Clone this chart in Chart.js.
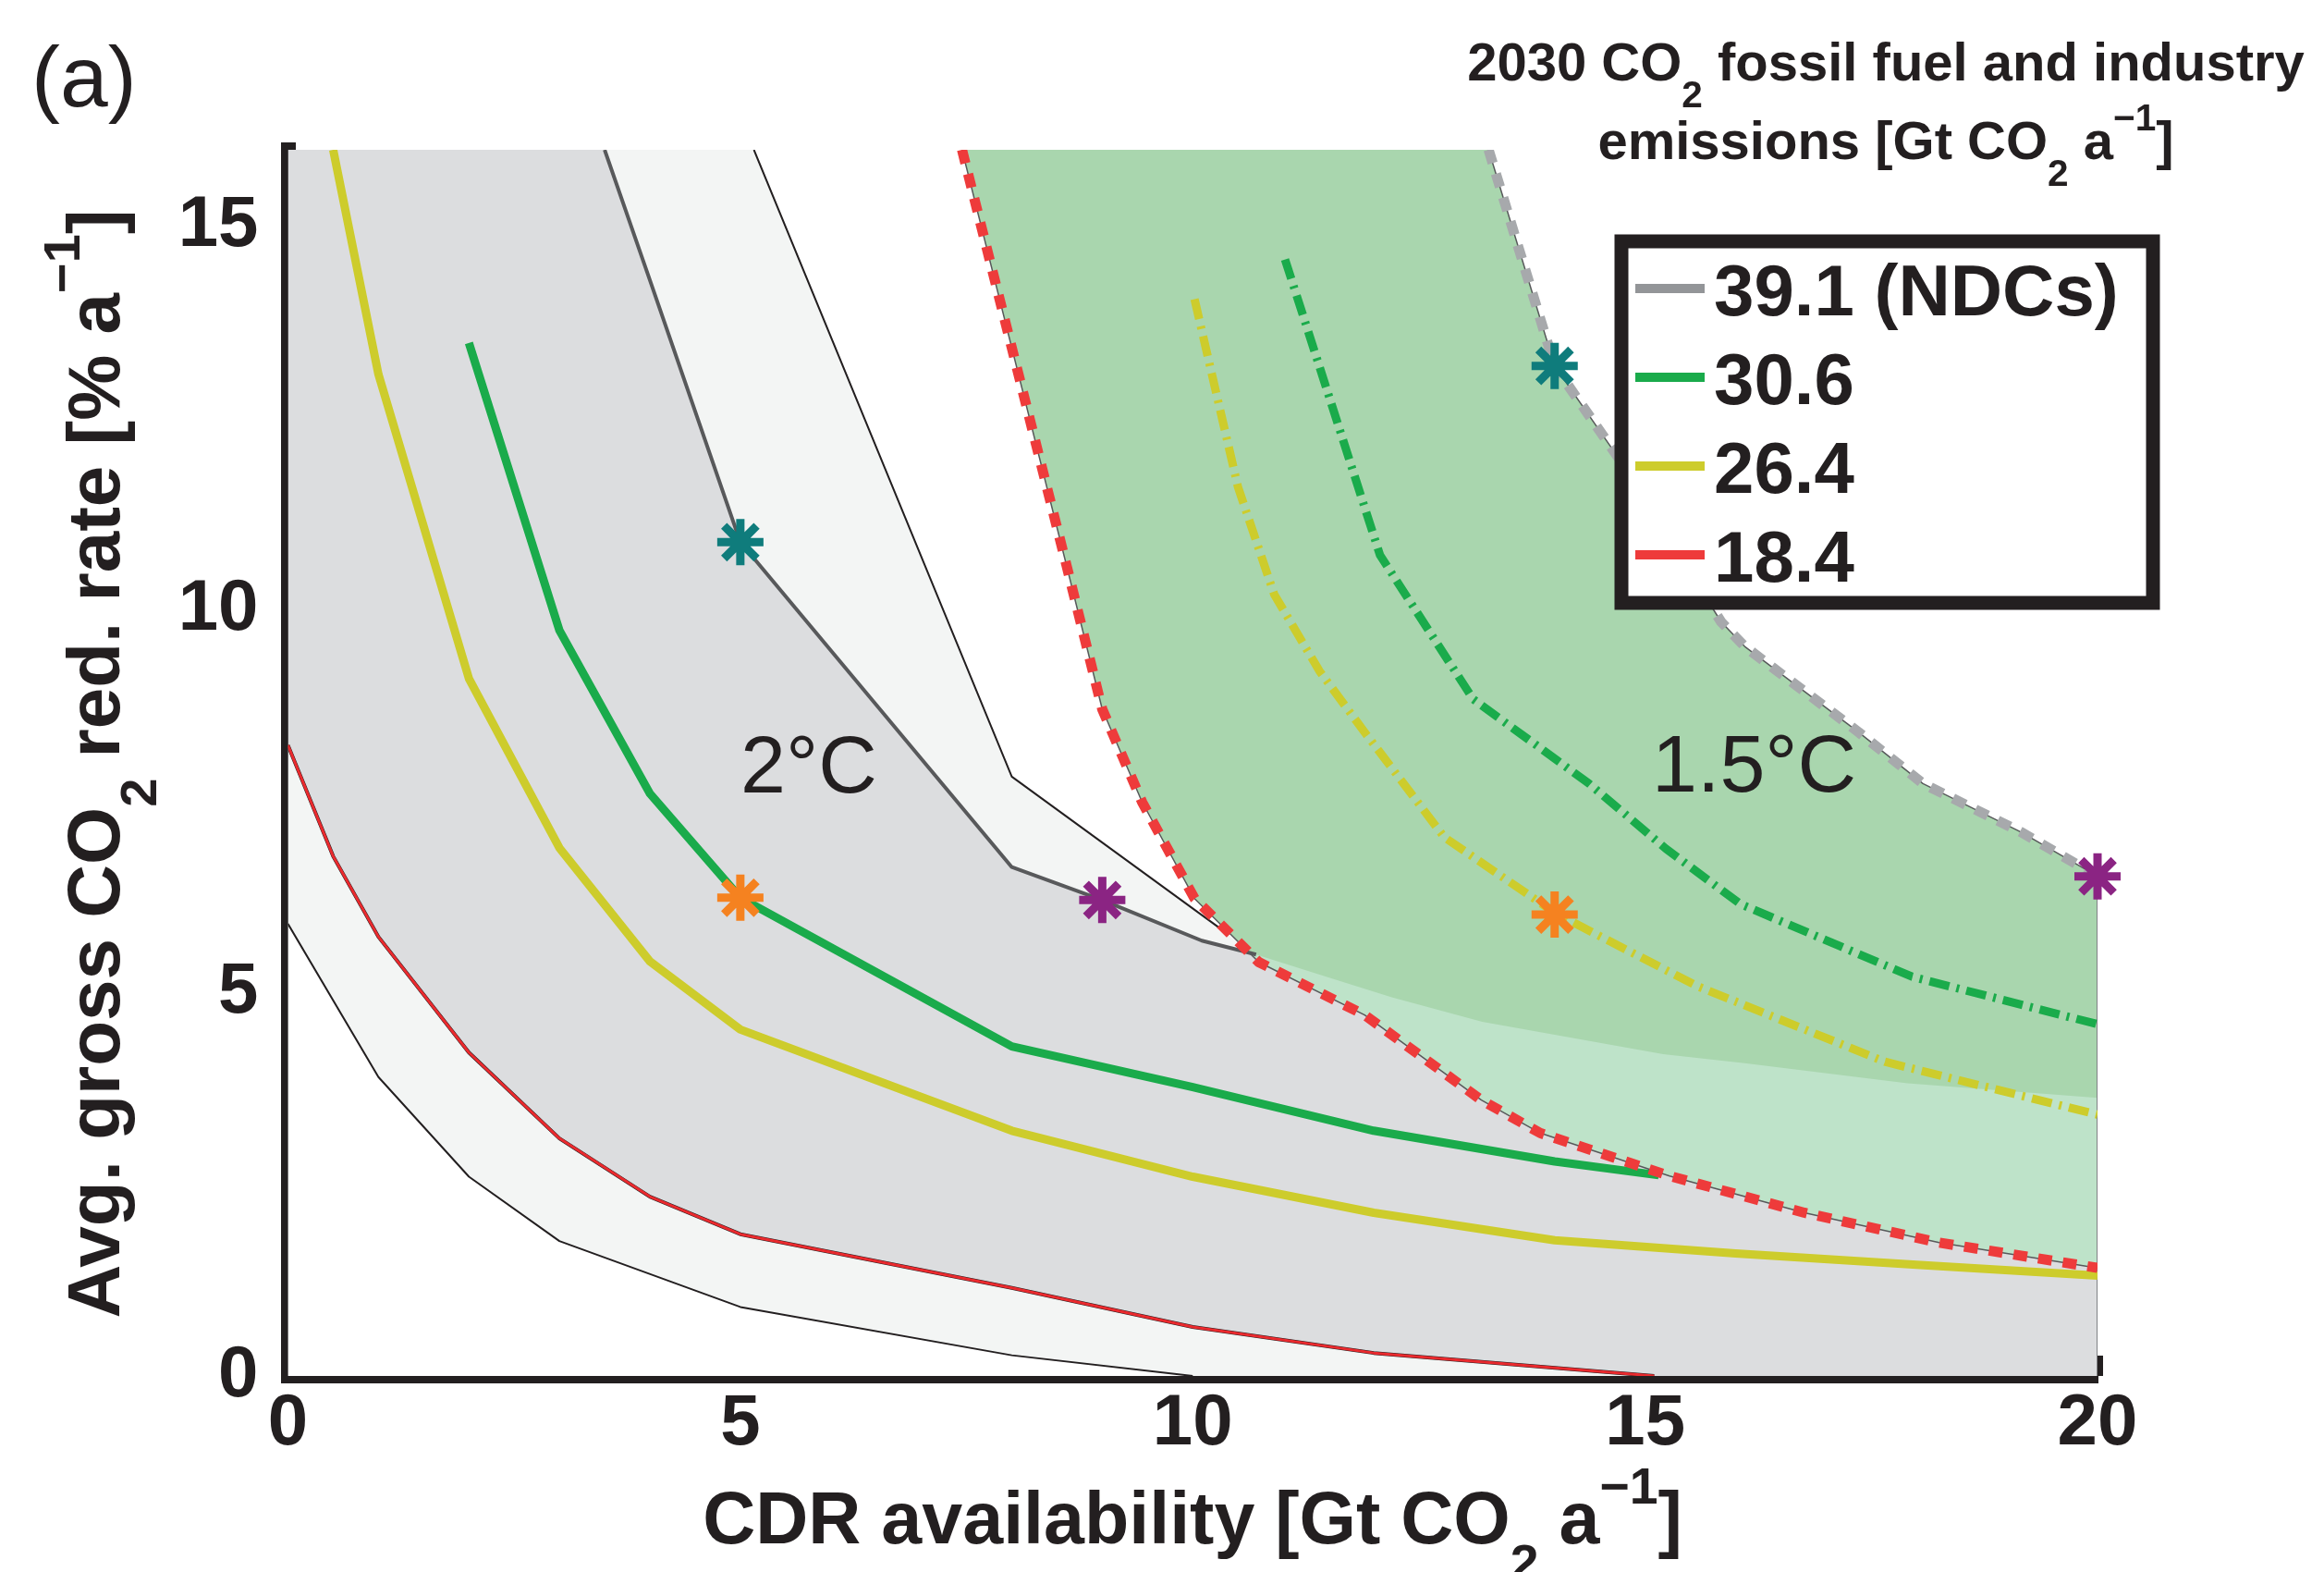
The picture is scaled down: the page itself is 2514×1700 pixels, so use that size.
<!DOCTYPE html>
<html>
<head>
<meta charset="utf-8">
<script src="https://cdn.jsdelivr.net/npm/chart.js"></script>
<style>
  html, body { margin: 0; padding: 0; background: #fff; }
</style>
</head>
<body>
<canvas id="chart" width="2514" height="1700"></canvas>
<script>
const X_TICKS = [0, 5, 10, 15, 20];
const Y_TICKS = [0, 5, 10, 15];
const X_MAX = 20, Y_MAX = 16;

// 2°C curves (solid)
const ndc2X = [3.5, 4, 5, 8, 9, 10.1, 10.7];
const ndc2Y = [16, 14.3, 10.88, 6.64, 6.21, 5.68, 5.5];
const grayTailX = [11.5, 12.2, 13.2, 15.2, 16.1, 17.9, 20];
const grayTailY = [5.2, 4.94, 4.62, 4.2, 4.08, 3.82, 3.63];
const outerX = [5.15, 8, 10.35];
const outerY = [16, 7.82, 5.8];
const lowX = [0, 1, 2, 3, 5, 8, 10];
const lowY = [5.9, 3.9, 2.6, 1.76, 0.9, 0.27, 0];
const red2X = [0, 0.5, 1, 2, 3, 4, 5, 8, 10, 12, 15.1];
const red2Y = [8.23, 6.78, 5.73, 4.22, 3.1, 2.34, 1.85, 1.15, 0.64, 0.3, 0];
const yel2X = [0.5, 1, 2, 3, 4, 5, 8, 10, 12, 14, 16, 18, 20];
const yel2Y = [16, 13.07, 9.1, 6.89, 5.41, 4.52, 3.2, 2.6, 2.13, 1.77, 1.6, 1.45, 1.31];
const grn2X = [2, 3, 4, 5, 8, 10, 12, 14, 15.15];
const grn2Y = [13.48, 9.73, 7.6, 6.24, 4.3, 3.77, 3.2, 2.8, 2.62];

// 1.5°C curves (dashed)
const ndc15X = [13.27, 14, 14.7, 15.84, 16.1, 17.36, 18.07, 19.15, 20];
const ndc15Y = [16, 13.18, 11.99, 9.84, 9.52, 8.4, 7.73, 7.1, 6.52];
const red15X = [7.45, 8.6, 9.0, 9.44, 10.02, 10.73, 11.9, 13.19, 13.84, 15.27, 16.76, 18.25, 20];
const red15Y = [16, 10.6, 8.7, 7.49, 6.23, 5.4, 4.71, 3.6, 3.17, 2.61, 2.13, 1.74, 1.41];
const grn15X = [11.02, 12.07, 13.1, 14.38, 15.23, 16.05, 17.95, 20];
const grn15Y = [14.57, 10.71, 8.83, 7.73, 6.88, 6.16, 5.21, 4.59];
const yel15X = [10.02, 10.5, 10.9, 11.4, 11.9, 12.78, 14.02, 15.57, 17.65, 20];
const yel15Y = [14.05, 11.6, 10.2, 9.2, 8.4, 7.03, 6.03, 5.09, 4.1, 3.41];

// asterisks
const tealX = [5, 14], tealY = [10.88, 13.18];
const orangeX = [5, 14], orangeY = [6.24, 6.02];
const purpleX = [9, 20], purpleY = [6.21, 6.52];

const legendLabels = ["39.1 (NDCs)", "30.6", "26.4", "18.4"];

const C = {
  text: "#231f20", band: "#f3f5f4", gray: "#dcdddf", green: "#a9d6ae", greenLight: "#bee3c9",
  ndc: "#939598", ndcDark: "#58595b", grn: "#1aab4b", yel: "#cdcc2c", red: "#ee3b3b",
  redLine: "#ea2a2e", teal: "#0f7c7c", orange: "#f58220", purple: "#8b2483"
};
const legendColors = [C.ndc, C.grn, C.yel, C.red];
const FONT = '"Liberation Sans", Arial, Helvetica, sans-serif';

const pts = (xs, ys) => xs.map((x, i) => ({ x, y: ys[i] }));

const grayTop = [{ x: 0, y: Y_MAX }, ...pts(ndc2X, ndc2Y), ...pts(grayTailX, grayTailY)];
const outerTop = [{ x: 0, y: Y_MAX }, ...pts(outerX, outerY),
  { x: ndc2X[ndc2X.length - 1], y: ndc2Y[ndc2Y.length - 1] }, ...pts(grayTailX, grayTailY)];
const greenTop = [{ x: red15X[0], y: Y_MAX }, ...pts(ndc15X, ndc15Y)];
const rightEdge = [{ x: X_MAX, y: 0 }, { x: X_MAX, y: ndc15Y[ndc15Y.length - 1] }];

function area(data, color, order, fill) {
  return { data, fill: fill || "origin", backgroundColor: color, borderWidth: 0,
    borderColor: "rgba(0,0,0,0)", pointRadius: 0, order };
}
function line(data, color, width, order, dash) {
  return { data, fill: false, borderColor: color, borderWidth: width, borderDash: dash || [],
    pointRadius: 0, order, borderCapStyle: "butt", borderJoinStyle: "round" };
}
function stars(data, color) {
  return { data, showLine: false, pointStyle: "star", pointRadius: 25, pointBorderWidth: 9,
    pointBorderColor: color, pointBackgroundColor: color, order: 0, clip: false };
}

const RED15 = 13; // index of the red dashed line, used as fill boundary
const datasets = [
  area(outerTop, C.band, 100),
  area(grayTop, C.gray, 99),
  area(pts(red2X, red2Y), C.band, 98),
  area(pts(lowX, lowY), "#ffffff", 97),
  area(greenTop, C.green, 96, { target: RED15 }),
  area(grayTop, C.greenLight, 95, { target: RED15, above: C.greenLight, below: "rgba(0,0,0,0)" }),
  line(rightEdge, "#808285", 2, 60),
  line(pts(outerX, outerY), C.text, 2, 50),
  line(pts(lowX, lowY), C.text, 2, 50),
  line(pts(ndc2X, ndc2Y), C.ndcDark, 4, 45),
  line(pts(red2X, red2Y), C.text, 4, 44),
  line(pts(red2X, red2Y), C.redLine, 3, 43),
  line(pts(red15X, red15Y), "#58595b", 1.5, 31),
  line(pts(red15X, red15Y), C.red, 11, 30, [15, 12]),
  line(pts(ndc15X, ndc15Y), "#58595b", 1.5, 31),
  line(pts(ndc15X, ndc15Y), "#a7a9ac", 11, 30, [15, 12]),
  line(pts(yel2X, yel2Y), C.yel, 9, 35),
  line(pts(grn2X, grn2Y), C.grn, 9, 34),
  line(pts(grn15X, grn15Y), C.grn, 9, 20, [22, 8, 3, 8]),
  line(pts(yel15X, yel15Y), C.yel, 9, 20, [22, 8, 3, 8]),
  stars(pts(tealX, tealY), C.teal),
  stars(pts(orangeX, orangeY), C.orange),
  stars(pts(purpleX, purpleY), C.purple)
];

const xTitle = [["CDR availability [Gt CO"], ["2", "sub"], [" a"], ["\u22121", "sup"], ["]"]];
const yTitle = [["Avg. gross CO"], ["2", "sub"], [" red. rate [% a"], ["\u22121", "sup"], ["]"]];
const legTitle1 = [["2030 CO"], ["2", "sub"], [" fossil fuel and industry"]];
const legTitle2 = [["emissions [Gt CO"], ["2", "sub"], [" a"], ["\u22121", "sup"], ["]"]];

// text with sub/superscripts
function rich(ctx, parts, x, y, size, weight, align) {
  const font = s => `${weight} ${s}px ${FONT}`;
  let w = 0;
  const segs = parts.map(([t, m]) => {
    const s = m ? size * 0.7 : size;
    ctx.font = font(s);
    const tw = ctx.measureText(t).width;
    w += tw;
    return { t, m, s, tw };
  });
  let cx = align === "center" ? x - w / 2 : x;
  ctx.textAlign = "left";
  ctx.textBaseline = "alphabetic";
  for (const g of segs) {
    ctx.font = font(g.s);
    const dy = g.m === "sub" ? size * 0.5 : g.m === "sup" ? -size * 0.54 : 0;
    ctx.fillText(g.t, cx, y + dy);
    cx += g.tw;
  }
}

const inwardTicks = {
  id: "inwardTicks",
  beforeDatasetsDraw(chart) {
    const { ctx, scales: { x, y } } = chart;
    ctx.save();
    ctx.fillStyle = C.text;
    const x0 = x.getPixelForValue(0), y0 = y.getPixelForValue(0);
    X_TICKS.forEach(v => ctx.fillRect(x.getPixelForValue(v) - 6, y0 - 22, 12, 22));
    Y_TICKS.forEach(v => ctx.fillRect(x0, y.getPixelForValue(v) - 6, 21, 12));
    ctx.restore();
  }
};

const decor = {
  id: "decor",
  afterDatasetsDraw(chart) {
    const ctx = chart.ctx;
    ctx.save();
    ctx.fillStyle = C.text;
    ctx.font = `88px ${FONT}`;
    ctx.textAlign = "left";
    ctx.textBaseline = "alphabetic";
    ctx.fillText("2°C", 801, 857);
    ctx.fillText("1.5°C", 1787, 856);
    ctx.restore();
  },
  afterDraw(chart) {
    const ctx = chart.ctx;
    ctx.save();
    ctx.fillStyle = C.text;
    ctx.font = `93px ${FONT}`;
    ctx.textAlign = "left";
    ctx.textBaseline = "alphabetic";
    ctx.fillText("(a)", 34, 115);
    rich(ctx, xTitle, 1290, 1669, 79, "bold", "center");
    ctx.save();
    ctx.translate(129, 826);
    ctx.rotate(-Math.PI / 2);
    rich(ctx, yTitle, 0, 0, 80, "bold", "center");
    ctx.restore();
    rich(ctx, legTitle1, 2040, 87, 58, "bold", "center");
    rich(ctx, legTitle2, 2040, 172, 58, "bold", "center");

    // legend box
    ctx.fillStyle = "#ffffff";
    ctx.fillRect(1754, 261, 575, 391);
    ctx.lineWidth = 15;
    ctx.strokeStyle = C.text;
    ctx.strokeRect(1754, 261, 575, 391);
    legendLabels.forEach((lab, i) => {
      const yy = 312 + i * 96;
      ctx.strokeStyle = legendColors[i];
      ctx.lineWidth = 10;
      ctx.beginPath();
      ctx.moveTo(1769, yy);
      ctx.lineTo(1844, yy);
      ctx.stroke();
      ctx.fillStyle = C.text;
      ctx.font = `bold 78px ${FONT}`;
      ctx.fillText(lab, 1854, yy + 29);
    });
    ctx.restore();
  }
};

const tickFont = { family: FONT, size: 78, weight: "bold" };

new Chart(document.getElementById("chart").getContext("2d"), {
  type: "line",
  data: { datasets },
  options: {
    responsive: false,
    devicePixelRatio: 1,
    animation: false,
    events: [],
    layout: { padding: { top: 162, right: 245, bottom: 0, left: 0 } },
    plugins: { legend: { display: false }, tooltip: { enabled: false }, title: { display: false } },
    elements: { line: { tension: 0 } },
    scales: {
      x: {
        type: "linear", min: 0, max: X_MAX,
        afterBuildTicks: s => { s.ticks = X_TICKS.map(v => ({ value: v })); },
        afterFit: s => { s.height = 212; },
        grid: { drawOnChartArea: false, drawTicks: false },
        border: { display: true, width: 16, color: C.text },
        ticks: { font: tickFont, color: C.text, padding: 6, maxRotation: 0 }
      },
      y: {
        type: "linear", min: 0, max: Y_MAX,
        afterBuildTicks: s => { s.ticks = Y_TICKS.map(v => ({ value: v })); },
        afterFit: s => { s.width = 311.5; },
        grid: { drawOnChartArea: false, drawTicks: false },
        border: { display: true, width: 16, color: C.text },
        ticks: { font: tickFont, color: C.text, padding: 32 }
      }
    }
  },
  plugins: [inwardTicks, decor]
});
</script>
</body>
</html>
